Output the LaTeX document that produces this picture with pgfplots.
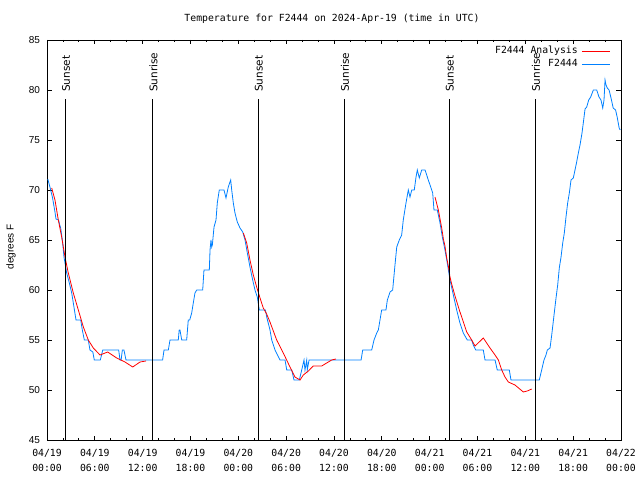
\documentclass[border=0pt]{standalone}
\usepackage{pgfplots}
\pgfplotsset{compat=1.18}
\usepackage{fontspec}
\setmainfont{Liberation Sans}
\newfontfamily\monof{DejaVu Sans Mono}
\newfontfamily\djsans{DejaVu Sans}
\definecolor{obsblue}{RGB}{0,128,255}
\newcommand{\sunline}[2]{%
  \draw[black, line width=0.8pt] (axis cs:#1,45) -- (axis cs:#1,79.1);
  \node[rotate=90, anchor=base west, inner sep=0pt, font=\djsans\fontsize{10.5}{12}\selectfont] at ([xshift=4.5pt]axis cs:#1,79.8) {#2};}
\begin{document}
\begin{tikzpicture}
\useasboundingbox (0,0) rectangle (640pt,480pt);
\begin{axis}[
  at={(47pt,40pt)}, anchor=south west,
  scale only axis, width=574pt, height=400pt,
  xmin=0, xmax=72, ymin=45, ymax=85,
  xtick={0,6,...,72},
  xticklabels={{04/19\\00:00},{04/19\\06:00},{04/19\\12:00},{04/19\\18:00},{04/20\\00:00},{04/20\\06:00},{04/20\\12:00},{04/20\\18:00},{04/21\\00:00},{04/21\\06:00},{04/21\\12:00},{04/21\\18:00},{04/22\\00:00}},
  minor x tick num=2,
  ytick={45,50,...,85},
  tick align=inside,
  major tick length=4.5pt, minor tick length=2.5pt,
  every tick/.style={black, line width=0.8pt},
  axis line style={line width=0.8pt},
  xticklabel style={font=\monof\fontsize{9.8}{15}\selectfont, align=center, yshift=-6pt},
  yticklabel style={font=\fontsize{10}{12}\selectfont, xshift=-3.5pt},
  /pgf/number format/assume math mode=true,
  legend style={draw=none, fill=none, at={(1,1)}, anchor=north east, xshift=-10.5pt, yshift=-4.5pt,
    font=\monof\fontsize{9.8}{12}\selectfont, inner sep=0pt, row sep=0pt, column sep=2pt,
    nodes={text height=7.5pt, text depth=2pt, inner sep=1.75pt}},
  legend cell align=right, legend plot pos=right, reverse legend,
  legend image code/.code={\draw[#1] (0pt,0pt) -- (28pt,0pt);},
]
\addplot[obsblue, line width=0.8pt] coordinates {
(0.1,71.1) (0.4,70.2) (0.7,69.2) (1.0,67.8) (1.13,67.1) (1.45,67.0) (1.6,66.5) (1.72,66.2)
(1.97,64.7) (2.13,63.3) (2.47,61.7) (2.8,60.7) (3.1,59.7) (3.3,58.7) (3.64,57) (4.23,57)
(4.43,56) (4.68,55) (5.18,55) (5.39,54) (5.75,53.8) (5.93,53) (6.69,53) (6.99,54) (8.99,54)
(9.16,53) (9.3,53) (9.45,54) (9.65,54) (9.91,53) (14.5,53) (14.68,54) (15.22,54) (15.43,55)
(16.47,55) (16.58,56) (16.68,56) (16.9,55) (17.52,55) (17.72,57) (17.9,57) (18.15,57.7)
(18.35,58.7) (18.56,59.7) (18.78,60) (19.53,60) (19.69,62) (20.36,62) (20.45,64) (20.57,65)
(20.66,64.3) (20.74,64.5) (20.95,66.3) (21.2,67) (21.36,68.7) (21.61,70) (22.2,70) (22.45,69.2)
(22.74,70.3) (23.04,71) (23.17,70) (23.37,68.7) (23.58,67.7) (23.87,66.8) (24.21,66.2)
(24.55,65.8) (24.84,65) (25.13,63.7) (25.46,62.3) (25.8,61) (26.09,60) (26.38,59.3) (26.63,58)
(27.4,58) (27.56,57.3) (27.97,56) (28.19,55) (28.6,54) (29.23,53) (29.86,53) (30.07,52)
(30.7,52) (30.98,51) (31.65,51) (31.95,52) (32.24,53) (32.36,52) (32.58,53) (32.65,52)
(32.87,53) (39.4,53) (39.6,54) (40.73,54) (41.02,55) (41.36,55.7) (41.56,56) (41.98,58)
(42.52,58) (42.69,59) (43.03,59.8) (43.36,60) (43.65,62.5) (43.87,64.3) (44.19,65) (44.49,65.5)
(44.69,67) (45.03,68.7) (45.32,70) (45.53,69.3) (45.75,70) (46.07,70) (46.29,71.3) (46.45,72)
(46.7,71.2) (47,72) (47.42,72) (47.83,71) (48.13,70.3) (48.38,69.7) (48.54,68) (48.96,68)
(49.3,66.7) (49.59,65.3) (49.92,64) (50.21,62.7) (50.55,61) (50.97,59.5) (51.39,58) (51.8,56.7)
(52.22,55.7) (52.72,55) (53.27,55) (53.47,54.5) (53.78,54) (54.73,54) (54.94,53) (56.2,53)
(56.48,52) (57.99,52) (58.2,51) (61.75,51) (62.05,52) (62.34,53) (62.59,53.5) (62.76,54)
(63.1,54.2) (63.31,55.5) (63.6,57.5) (63.85,59.2) (64.06,60.5) (64.26,62.2) (64.48,63.3)
(64.69,64.7) (64.89,65.7) (65.1,67.3) (65.31,68.7) (65.52,69.7) (65.73,71) (66.02,71.2)
(66.23,72) (66.44,72.8) (66.65,73.7) (66.86,74.5) (67.11,75.7) (67.27,76.7) (67.49,78.1)
(67.7,78.3) (67.95,79) (68.2,79.3) (68.53,80) (68.95,80) (69.24,79.3) (69.49,79) (69.71,78.2)
(69.87,79) (70.0,81) (70.12,80.5) (70.28,80.2) (70.5,80) (70.75,79.2) (71.02,78.2) (71.32,78)
(71.52,77.3) (71.77,76.2) (71.9,76)
};
\addlegendentry{F2444}
\addplot[red, line width=0.8pt] coordinates {
(0.59,70.2) (1.0,69) (1.42,67) (1.84,65.3) (2.26,63.3) (2.67,61.7) (3.3,59.7) (3.93,58)
(4.56,56.3) (5.18,55) (5.81,54.2) (6.65,53.5) (7.61,53.8) (8.74,53.2) (9.78,52.8) (10.75,52.3)
(11.67,52.8) (12.42,52.9)
};
\addlegendentry{F2444 Analysis}
\addplot[red, line width=0.8pt, forget plot] coordinates {
(24.63,65.7) (25.05,64.7) (25.46,63) (25.88,61.5) (26.3,60.3) (26.72,59.2) (27.13,58.2)
(27.55,57.6) (27.97,56.8) (28.81,55) (29.64,53.7) (30.48,52.3) (31.1,51.3) (31.74,51)
(32.15,51.5) (32.78,51.9) (33.4,52.4) (34.46,52.4) (34.87,52.6) (35.29,52.8) (35.71,53) (36.25,53.1)
};
\addplot[red, line width=0.8pt, forget plot] coordinates {
(48.67,69.3) (49.09,68.0) (49.3,67.1) (49.51,66.2) (49.72,65.1) (49.92,64.4) (50.14,63.2)
(50.34,62.4) (50.55,61.3) (50.76,60.6) (51.18,59.4) (51.72,58.0) (52.65,55.8) (53.27,55)
(53.69,54.4) (54.73,55.2) (55.57,54.2) (56.2,53.5) (56.62,53) (57.04,52) (57.45,51.3)
(57.87,50.8) (58.7,50.5) (59.75,49.8) (60.25,49.9) (60.8,50.1)
};
\sunline{2.3}{Sunset}
\sunline{13.28}{Sunrise}
\sunline{26.47}{Sunset}
\sunline{37.3}{Sunrise}
\sunline{50.43}{Sunset}
\sunline{61.26}{Sunrise}
\end{axis}
\node[font=\monof\fontsize{9.8}{12}\selectfont] at (332pt,461pt) {Temperature for F2444 on 2024-Apr-19 (time in UTC)};
\node[rotate=90, font=\fontsize{10}{12}\selectfont] at (11pt,233pt) {degrees F};
\end{tikzpicture}
\end{document}
